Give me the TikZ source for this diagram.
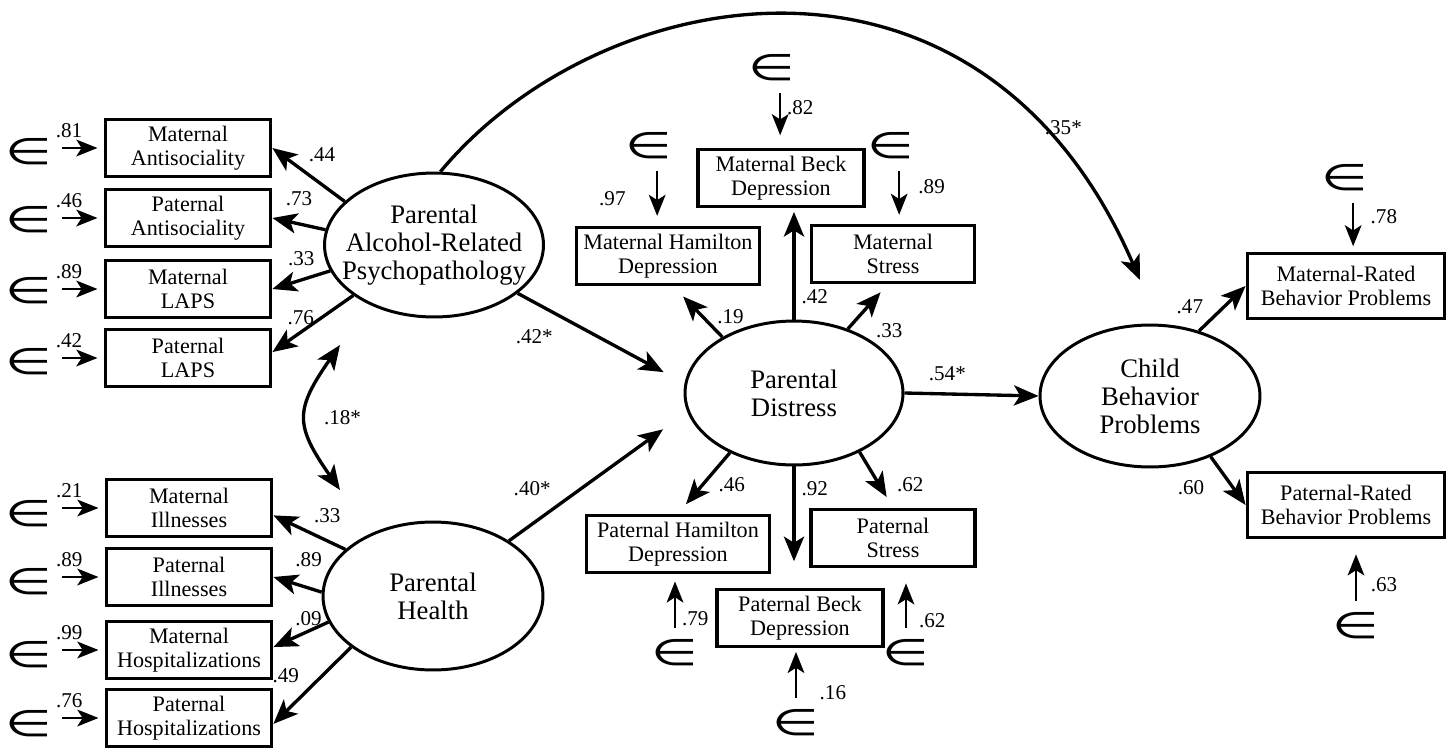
\documentclass[tikz,border=0pt]{standalone}
\usepackage{graphicx}
\usepackage{fontspec}
\setmainfont{Liberation Serif}
\newfontfamily\epsfont{DejaVu Sans}
\usetikzlibrary{arrows.meta,shapes.geometric}

\newcommand{\errsym}{\scalebox{1.05}[0.72]{\fontsize{29}{29}\selectfont\epsfont ∈}}

\begin{document}
\begin{tikzpicture}[x=0.02cm, y=-0.02cm, >={Stealth[length=14pt,width=11.5pt,inset=3.5pt]},
    obs/.style={draw, line width=2.2pt, align=center, inner sep=0pt, minimum width=3.3cm, minimum height=1.14cm, font=\fontsize{12.6}{13.6}\selectfont},
    lat/.style={draw, ellipse, line width=1.7pt, align=center, inner sep=0pt, font=\fontsize{15.2}{16}\selectfont},
    res/.style={inner sep=0pt, minimum size=0.6cm},
    coef/.style={font=\fontsize{12}{12}\selectfont},
    ld/.style={->, line width=1.9pt},
    er/.style={->, line width=1.3pt, shorten <=5.5pt, >={Stealth[length=12pt,width=9.5pt,inset=3pt]}}]
    \useasboundingbox (0,0) rectangle (1448,751);

    % Latent variables
    \node[lat, minimum width=4.38cm, minimum height=2.88cm, inner xsep=-12pt] (alc) at (434,245) {Parental\\Alcohol-Related\\Psychopathology};
    \node[lat, minimum width=4.4cm, minimum height=2.96cm] (hlth) at (433,596) {Parental\\Health};
    \node[lat, minimum width=4.36cm, minimum height=2.88cm] (dist) at (794,393) {Parental\\Distress};
    \node[lat, minimum width=4.4cm, minimum height=2.84cm] (child) at (1150,396) {Child\\Behavior\\Problems};

    % Indicators on the left
    \node[obs] (matA) at (188,148) {Maternal\\Antisociality};
    \node[obs] (patA) at (188,218) {Paternal\\Antisociality};
    \node[obs] (matL) at (188,289) {Maternal\\LAPS};
    \node[obs] (patL) at (188,358) {Paternal\\LAPS};
    \node[obs] (matI) at (189,508) {Maternal\\Illnesses};
    \node[obs] (patI) at (189,577) {Paternal\\Illnesses};
    \node[obs] (matH) at (189,650) {Maternal\\Hospitalizations};
    \node[obs] (patH) at (189,718) {Paternal\\Hospitalizations};

    % Indicators of distress
    \node[obs, minimum width=3.32cm] (matB) at (781,178) {Maternal Beck\\Depression};
    \node[obs, minimum width=3.66cm] (matHam) at (668,256) {Maternal Hamilton\\Depression};
    \node[obs, minimum width=3.26cm] (matS) at (893,254) {Maternal\\Stress};
    \node[obs, minimum width=3.66cm] (patHam) at (678,544) {Paternal Hamilton\\Depression};
    \node[obs, minimum width=3.28cm] (patS) at (893,538) {Paternal\\Stress};
    \node[obs, minimum width=3.32cm] (patB) at (800,618) {Paternal Beck\\Depression};

    % Indicators on the right
    \node[obs, minimum width=3.94cm, minimum height=1.3cm] (matR) at (1346,286) {Maternal-Rated\\Behavior Problems};
    \node[obs, minimum width=3.94cm, minimum height=1.3cm] (patR) at (1346,505) {Paternal-Rated\\Behavior Problems};

    % Error terms
    \node[res] (e1) at (29,152) {\errsym};
    \node[res] (e2) at (29,220) {\errsym};
    \node[res] (e3) at (29,291) {\errsym};
    \node[res] (e4) at (29,362) {\errsym};
    \node[res] (e5) at (29,514) {\errsym};
    \node[res] (e6) at (29,582) {\errsym};
    \node[res] (e7) at (29,655) {\errsym};
    \node[res] (e8) at (29,724) {\errsym};
    \node[res] (eMB) at (772,68) {\errsym};
    \node[res] (eMH) at (649,146) {\errsym};
    \node[res] (eMS) at (891,146) {\errsym};
    \node[res] (eMR) at (1345,178) {\errsym};
    \node[res] (ePH) at (675,653) {\errsym};
    \node[res] (ePB) at (796,723) {\errsym};
    \node[res] (ePS) at (906,653) {\errsym};
    \node[res] (ePR) at (1356,626) {\errsym};

    % Error arrows
    \draw[er, shorten >=3.5pt] (e1.east |- matA.west) -- (matA.west) node[coef, pos=0.32, above=2pt] {.81};
    \draw[er, shorten >=3.5pt] (e2.east |- patA.west) -- (patA.west) node[coef, pos=0.32, above=2pt] {.46};
    \draw[er, shorten >=3.5pt] (e3.east |- matL.west) -- (matL.west) node[coef, pos=0.32, above=2pt] {.89};
    \draw[er, shorten >=3.5pt] (e4.east |- patL.west) -- (patL.west) node[coef, pos=0.32, above=2pt] {.42};
    \draw[er, shorten >=3.5pt] (e5.east |- matI.west) -- (matI.west) node[coef, pos=0.32, above=2pt] {.21};
    \draw[er, shorten >=3.5pt] (e6.east |- patI.west) -- (patI.west) node[coef, pos=0.32, above=2pt] {.89};
    \draw[er, shorten >=3.5pt] (e7.east |- matH.west) -- (matH.west) node[coef, pos=0.32, above=2pt] {.99};
    \draw[er, shorten >=3.5pt] (e8.east |- patH.west) -- (patH.west) node[coef, pos=0.32, above=2pt] {.76};
    \draw[er, shorten >=7pt] (eMB.-62) -- (eMB.-62 |- matB.north) node[coef, pos=0.38, right] {.82};
    \draw[er, shorten >=5.5pt] (eMH.-62) -- (eMH.-62 |- matHam.north) node[coef, pos=0.58, left=14pt] {.97};
    \draw[er, shorten >=5pt] (eMS.-62) -- (eMS.-62 |- matS.north) node[coef, pos=0.4, right=7pt] {.89};
    \draw[er, shorten >=3pt] (eMR.-62) -- (eMR.-62 |- matR.north) node[coef, pos=0.4, right=6pt] {.78};
    \draw[er, shorten >=4pt] (ePH.north) -- (ePH.north |- patHam.south) node[coef, pos=0.3, right] {.79};
    \draw[er, shorten >=2pt] (ePB.north) -- (ePB.north |- patB.south) node[coef, pos=0.26, right=9.5pt] {.16};
    \draw[er, shorten >=8.5pt] (ePS.north) -- (ePS.north |- patS.south) node[coef, pos=0.24, right=3.5pt] {.62};
    \draw[er, shorten >=8.5pt] (ePR.north) -- (ePR.north |- patR.south) node[coef, pos=0.37, right=4.5pt] {.63};

    % Loadings
    \draw[ld] (alc.154) -- (matA.east) node[coef, pos=0.6, anchor=south west] {.44};
    \draw[ld] (alc.172) -- (patA.east) node[coef, pos=0.5, above=6pt] {.73};
    \draw[ld] (alc.194) -- (matL.east) node[coef, pos=0.5, above=4pt] {.33};
    \draw[ld] (alc.212) -- (patL.4) node[coef, pos=0.65, above] {.76};
    \draw[ld] (hlth.152) -- (matI.-5) node[coef, pos=0.25, above=6pt] {.33};
    \draw[ld] (hlth.178) -- (patI.east) node[coef, pos=0.27, above=8pt] {.89};
    \draw[ld] (hlth.194) -- (matH.2) node[coef, pos=0.36, above=1pt, inner sep=1pt] {.09};
    \draw[ld] (hlth.212) -- (patH.-4) node[coef, pos=0.37, left=9pt] {.49};
    \draw[ld, shorten >=8pt] (dist.142) -- (matHam.-80) node[coef, pos=0.4, right=4pt] {.19};
    \draw[ld, shorten >=2pt] (dist.north) -- (dist.north |- matB.south) node[coef, pos=0.21, right] {.42};
    \draw[ld, shorten >=6pt] (dist.50) -- (matS.-100) node[coef, pos=0.3, anchor=north west, xshift=5pt] {.33};
    \draw[ld, shorten >=7pt] (dist.223) -- (patHam.north) node[coef, pos=0.53, right=5pt] {.46};
    \draw[ld, shorten >=15pt] (dist.south) -- (dist.south |- patB.north) node[coef, pos=0.18, right] {.92};
    \draw[ld, shorten >=7pt] (dist.318) -- (patS.north) node[coef, pos=0.58, right=6pt] {.62};
    \draw[ld] (child.53) -- (matR.west) node[coef, pos=0.55, left=8pt] {.47};
    \draw[ld] (child.315) -- (patR.west) node[coef, pos=0.63, left=12pt] {.60};

    % Structural paths
    \draw[ld, shorten >=13.5pt] (alc.330) -- (dist.175) node[coef, pos=0.1, below=11pt] {.42*};
    \draw[ld, shorten >=17pt] (hlth.36) -- (dist.190) node[coef, pos=0.13, above=12pt] {.40*};
    \draw[ld] (dist.east) -- (child.west) node[coef, pos=0.32, above=3pt] {.54*};
    \coordinate (tipC) at (1140,280);
    \draw[ld] (alc.85) .. controls (600,-20) and (980,-90) .. (tipC) node[coef, pos=0.83, anchor=west, inner sep=1pt] {.35*};

    % Correlation
    \coordinate (cTop) at (340,345);
    \coordinate (cBot) at (340,490);
    \draw[ld, <->] (cTop) to[bend right=35, looseness=1.4] node[coef, midway, right=6pt] {.18*} (cBot);
\end{tikzpicture}
\end{document}
